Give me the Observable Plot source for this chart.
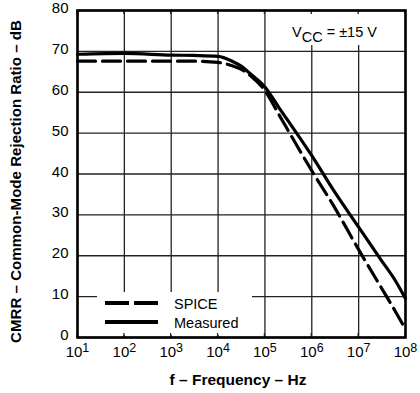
<!DOCTYPE html>
<html><head><meta charset="utf-8">
<script src="https://cdn.jsdelivr.net/npm/d3@7"></script>
<script src="https://cdn.jsdelivr.net/npm/@observablehq/plot@0.6"></script>
<style>body{margin:0;background:#fff} svg{display:block}</style>
</head><body><div id="chart"></div>
<script>
// ---- data ----
const freqs    = [10, 100, 1e3, 3e3, 1e4, 2e4, 3e4, 5e4, 1e5, 2e5, 3e5, 1e6, 3e6, 1e7, 3e7, 6e7, 1e8];
const measured = [69.3, 69.5, 69.1, 69.0, 68.8, 67.6, 66.5, 64.4, 61.3, 56.2, 53.3, 44.5, 35.8, 27.0, 19.0, 14.0, 9.5];
const spice    = [67.6, 67.6, 67.6, 67.6, 67.3, 66.5, 65.7, 64.0, 60.4, 54.5, 51.0, 40.8, 32.0, 21.5, 12.3, 6.5, 2.0];
const xTicks = [1e1, 1e2, 1e3, 1e4, 1e5, 1e6, 1e7, 1e8];
const xTickExps = ["1", "2", "3", "4", "5", "6", "7", "8"];
const yTicks = [0, 10, 20, 30, 40, 50, 60, 70, 80];
const seriesNames = ["SPICE", "Measured"];
const xTitle = "f – Frequency – Hz";
const yTitle = "CMRR – Common-Mode Rejection Ratio – dB";
const noteMain = "V", noteSub = "CC", noteRest = " = ±15 V";

const spiceRows = freqs.map((f, i) => ({f, db: spice[i]}));
const measRows  = freqs.map((f, i) => ({f, db: measured[i]}));

const FONT = "'Liberation Sans', Arial, Helvetica, sans-serif";
const GRID = "#222";
const plot = Plot.plot({
  width: 420, height: 393,
  marginTop: 10, marginRight: 15, marginBottom: 56, marginLeft: 77,
  style: {fontFamily: FONT, fontSize: "15px", color: "#000", background: "#fff", overflow: "visible"},
  x: {type: "log", domain: [10, 1e8], ticks: xTicks, tickSize: 0, tickPadding: 9,
      tickFormat: d => "10^" + xTickExps[xTicks.findIndex(t => Math.abs(t - d) / t < 1e-6)], label: null},
  y: {domain: [0, 80], ticks: yTicks, tickSize: 0, tickPadding: 9, label: null},
  marks: [
    Plot.ruleX(xTicks, {stroke: GRID, strokeWidth: 1.3}),
    Plot.ruleY(yTicks, {stroke: GRID, strokeWidth: 1.3}),
    Plot.line(spiceRows, {x: "f", y: "db", stroke: "#000", strokeWidth: 3.2, strokeDasharray: "18,7", curve: "monotone-x"}),
    Plot.line(measRows, {x: "f", y: "db", stroke: "#000", strokeWidth: 3.2, curve: "monotone-x"}),
    Plot.frame({stroke: "#000", strokeWidth: 2.6})
  ]
});

const svg = d3.select(plot);
const X = plot.scale("x"), Y = plot.scale("y");
const x0 = X.apply(10), x1 = X.apply(1e8), y0 = Y.apply(0), y1 = Y.apply(80);

// superscript tick labels; nudge y tick labels slightly below their gridline
svg.selectAll("text").each(function () {
  const t = this.textContent;
  const s = d3.select(this);
  if (/^10\^\d$/.test(t)) {
    const e = t.slice(3);
    s.text("");
    s.append("tspan").text("10");
    s.append("tspan").attr("dy", "-0.42em").attr("font-size", "12.5px").text(e);
  } else if (/^\d+$/.test(t)) {
    s.attr("y", (+s.attr("y") || 0) + 2.5);
  }
});

// white boxes under legend and note (above grid, below frame)
let frameEl = plot.querySelector('[aria-label="frame"]');
if (!frameEl) { const rects = plot.querySelectorAll(":scope > rect"); frameEl = rects[rects.length - 1] || null; }
const boxes = svg.insert("g", () => frameEl);
boxes.append("rect").attr("x", x0 + 20).attr("y", y0 - 45).attr("width", 155).attr("height", 43).attr("fill", "#fff");
boxes.append("rect").attr("x", x0 + 205).attr("y", y1 + 2).attr("width", x1 - x0 - 206).attr("height", 33).attr("fill", "#fff");
// inner tick stubs
for (const t of xTicks) {
  const xp = X.apply(t);
  boxes.append("line").attr("x1", xp).attr("x2", xp).attr("y1", y0).attr("y2", y0 - 4).attr("stroke", GRID).attr("stroke-width", 1.3);
  boxes.append("line").attr("x1", xp).attr("x2", xp).attr("y1", y1).attr("y2", y1 + 4).attr("stroke", GRID).attr("stroke-width", 1.3);
}

// legend
const lg = svg.append("g").attr("font-family", FONT).attr("font-size", "14.5px").attr("text-anchor", "start");
const legY = [y0 - 34, y0 - 15];
lg.append("line").attr("x1", x0 + 28).attr("x2", x0 + 81).attr("y1", legY[0]).attr("y2", legY[0])
  .attr("stroke", "#000").attr("stroke-width", 4).attr("stroke-dasharray", "24,5");
lg.append("line").attr("x1", x0 + 28).attr("x2", x0 + 81).attr("y1", legY[1]).attr("y2", legY[1])
  .attr("stroke", "#000").attr("stroke-width", 4);
seriesNames.forEach((n, i) => lg.append("text").attr("x", x0 + 97).attr("y", legY[i] + 5.5).text(n));

// note
const nt = svg.append("text").attr("x", x0 + 215).attr("y", y1 + 26.5).attr("text-anchor", "start")
  .attr("font-family", FONT).attr("font-size", "14.5px");
nt.append("tspan").text(noteMain);
nt.append("tspan").attr("dy", 5).text(noteSub);
nt.append("tspan").attr("dy", -5).text(noteRest);

// axis titles
svg.append("text").attr("x", (x0 + x1) / 2 - 3).attr("y", 385).attr("text-anchor", "middle")
  .attr("font-family", FONT).attr("font-weight", "bold").attr("font-size", "15.5px").text(xTitle);
svg.append("text").attr("transform", `translate(20.5,${(y0 + y1) / 2 + 8}) rotate(-90)`).attr("text-anchor", "middle")
  .attr("font-family", FONT).attr("font-weight", "bold").attr("font-size", "15.1px").text(yTitle);

document.getElementById("chart").appendChild(plot);
</script>
</body></html>
